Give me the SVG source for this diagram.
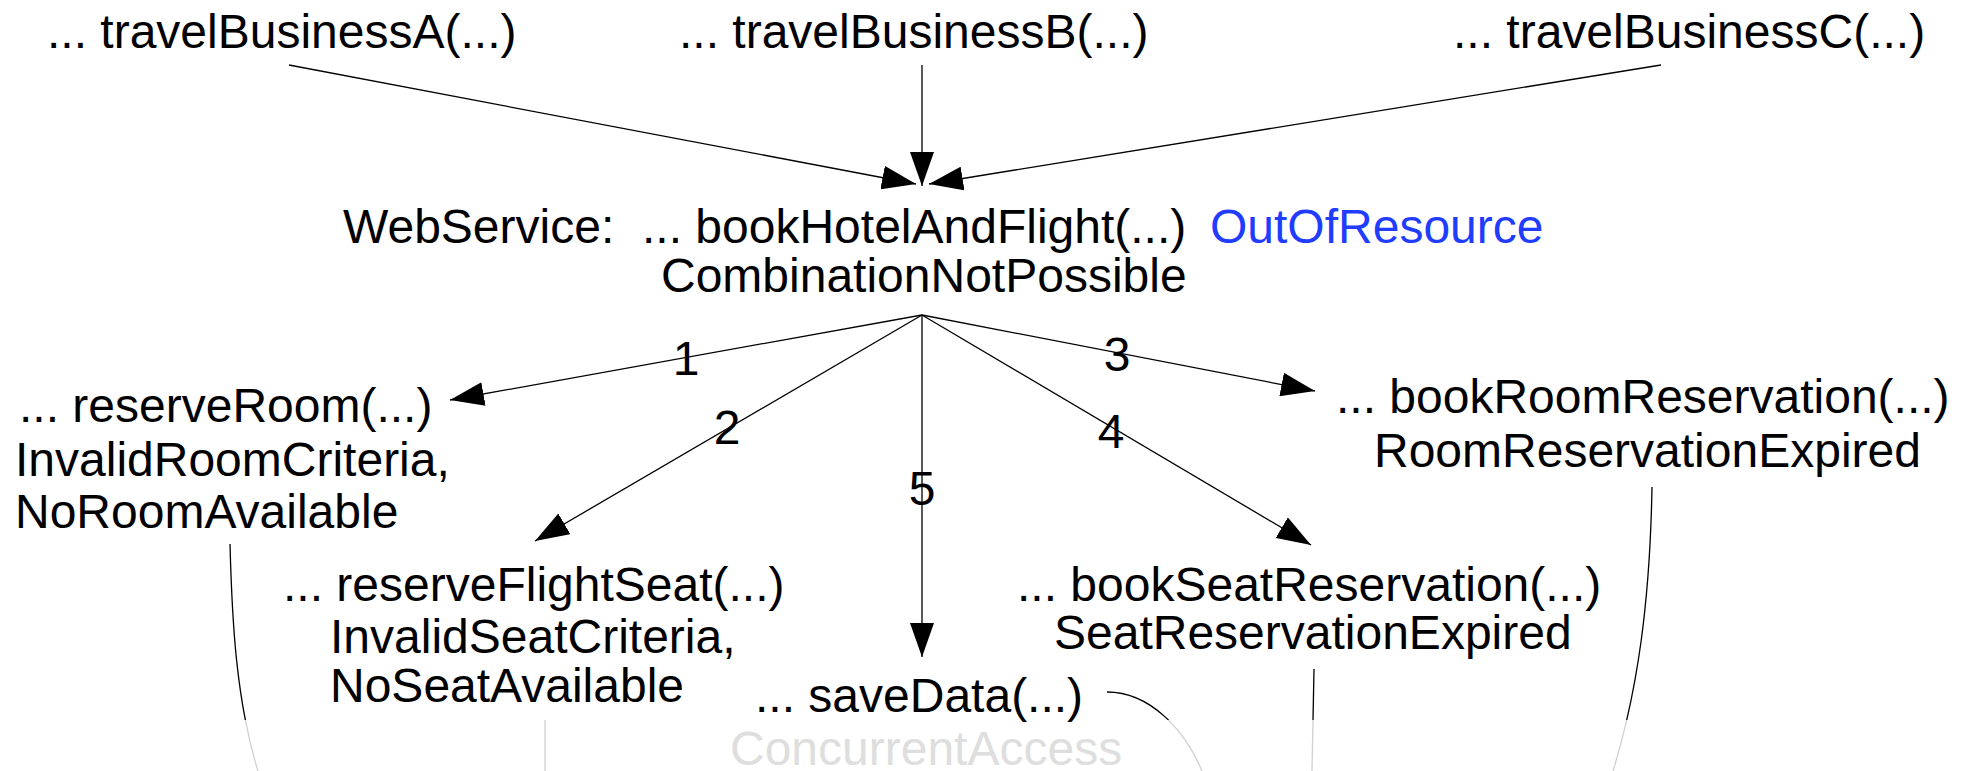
<svg xmlns="http://www.w3.org/2000/svg" width="1973" height="771" viewBox="0 0 1973 771">
  <style>
    .t { font-family: "Liberation Sans", Arial, sans-serif; font-size: 48px; fill: #000; }
    .exc { fill: #1f3cff; }
    .faded { fill: #dedede; }
    .num { font-family: "Liberation Sans", Arial, sans-serif; font-size: 48px; fill: #000; text-anchor: middle; }
    .edge { stroke: #000; stroke-width: 1.3; fill: none; marker-end: url(#arrow); }
    .flow { stroke: #000; stroke-width: 1.3; fill: none; }
    .flow-faded { stroke: #d0d0d0; stroke-width: 1.3; fill: none; }
  </style>
  <defs>
    <marker id="arrow" markerUnits="userSpaceOnUse" markerWidth="34" markerHeight="24" refX="34" refY="12" orient="auto">
      <path d="M0,0 L34,12 L0,24 z" fill="#000"/>
    </marker>
    <clipPath id="upper"><rect x="0" y="0" width="1973" height="720"/></clipPath>
    <clipPath id="lower"><rect x="0" y="720" width="1973" height="51"/></clipPath>
    <path id="c-room" d="M230,544 C232,620 236,700 258,771"/>
    <path id="c-seat" d="M545,700 L545,771"/>
    <path id="c-save" d="M1107,692 C1150,692 1185,730 1202,771"/>
    <path id="c-bseat" d="M1314,669 L1312,771"/>
    <path id="c-broom" d="M1652,487 C1650,600 1638,690 1613,771"/>
  </defs>

  <!-- callers -->
  <g id="callerA"><text class="t" x="47" y="48">... travelBusinessA(...)</text></g>
  <g id="callerB"><text class="t" x="679" y="48">... travelBusinessB(...)</text></g>
  <g id="callerC"><text class="t" x="1453" y="48">... travelBusinessC(...)</text></g>

  <!-- web service operation -->
  <g id="bookHotelAndFlight">
    <text class="t" x="343" y="243">WebService:</text>
    <text class="t" x="642" y="243">... bookHotelAndFlight(...)</text>
    <text class="t exc" x="1210" y="243">OutOfResource</text>
    <text class="t" x="661" y="292">CombinationNotPossible</text>
  </g>

  <!-- called operations -->
  <g id="reserveRoom">
    <text class="t" x="19" y="422">... reserveRoom(...)</text>
    <text class="t" x="15" y="476">InvalidRoomCriteria,</text>
    <text class="t" x="15" y="528">NoRoomAvailable</text>
  </g>
  <g id="reserveFlightSeat">
    <text class="t" x="283" y="601">... reserveFlightSeat(...)</text>
    <text class="t" x="330" y="653">InvalidSeatCriteria,</text>
    <text class="t" x="330" y="702">NoSeatAvailable</text>
  </g>
  <g id="saveData">
    <text class="t" x="755" y="712">... saveData(...)</text>
    <text class="t faded" x="730" y="765">ConcurrentAccess</text>
  </g>
  <g id="bookSeatReservation">
    <text class="t" x="1017" y="601">... bookSeatReservation(...)</text>
    <text class="t" x="1054" y="649">SeatReservationExpired</text>
  </g>
  <g id="bookRoomReservation">
    <text class="t" x="1336" y="413">... bookRoomReservation(...)</text>
    <text class="t" x="1374" y="467">RoomReservationExpired</text>
  </g>

  <!-- connectors -->
  <g id="connectors">
    <line class="edge" x1="289" y1="65" x2="916" y2="184"/>
    <line class="edge" x1="922" y1="65" x2="922" y2="186"/>
    <line class="edge" x1="1661" y1="65" x2="929" y2="184"/>

    <line class="edge" x1="922" y1="315" x2="450" y2="400"/>
    <line class="edge" x1="922" y1="315" x2="535" y2="541"/>
    <line class="edge" x1="922" y1="315" x2="922" y2="657"/>
    <line class="edge" x1="922" y1="315" x2="1311" y2="545"/>
    <line class="edge" x1="922" y1="315" x2="1315" y2="391"/>

    <text class="num" x="686" y="375">1</text>
    <text class="num" x="727" y="444">2</text>
    <text class="num" x="1117" y="371">3</text>
    <text class="num" x="1111" y="448">4</text>
    <text class="num" x="922" y="505">5</text>

    <g clip-path="url(#upper)">
      <use href="#c-room" class="flow"/>
      <use href="#c-save" class="flow"/>
      <use href="#c-bseat" class="flow"/>
      <use href="#c-broom" class="flow"/>
    </g>
    <g clip-path="url(#lower)">
      <use href="#c-room" class="flow-faded"/>
      <use href="#c-seat" class="flow-faded"/>
      <use href="#c-save" class="flow-faded"/>
      <use href="#c-bseat" class="flow-faded"/>
      <use href="#c-broom" class="flow-faded"/>
    </g>
  </g>
</svg>
